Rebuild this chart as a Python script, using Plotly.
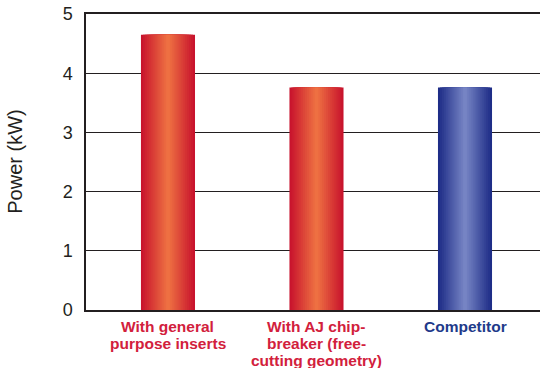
import plotly.graph_objects as go

categories = ["With general<br>purpose inserts",
              "With AJ chip-<br>breaker (free-<br>cutting geometry)",
              "Competitor"]
values = [4.65, 3.76, 3.76]
label_colors = ["#D2203C", "#D2203C", "#1E3A8A"]
y_ticks = [0, 1, 2, 3, 4, 5]
y_title = "Power (kW)"

# gradient approximation: edge colour -> centre colour
red_edge, red_mid = (200, 20, 45), (238, 112, 66)
blue_edge, blue_mid = (30, 45, 135), (118, 132, 196)
bar_styles = [(red_edge, red_mid), (red_edge, red_mid), (blue_edge, blue_mid)]

def mix(a, b, t):
    return "rgb(%d,%d,%d)" % tuple(round(a[i] + (b[i] - a[i]) * t) for i in range(3))

fig = go.Figure()
x_idx = list(range(len(categories)))
full_w = 0.364
steps = 14
for s in range(steps):
    t = s / (steps - 1)
    w = full_w * (1 - t * 0.93)
    colors = [mix(e, m, t) for (e, m) in bar_styles]
    fig.add_trace(go.Bar(x=x_idx, y=values, width=w,
                         marker=dict(color=colors, line=dict(width=0)),
                         showlegend=False, hoverinfo="skip"))

# category labels: one annotation per line for tight leading
annotations = []
label_size = 15.5
line_gap = 17.4
for i, (cat, col) in enumerate(zip(categories, label_colors)):
    for j, line in enumerate(cat.split("<br>")):
        annotations.append(dict(
            text="<b>%s</b>" % line, x=i, y=0, xref="x", yref="y",
            xanchor="center", yanchor="middle", showarrow=False,
            yshift=-16 - j * line_gap, borderpad=0,
            font=dict(size=label_size, color=col)))

annotations.append(dict(text=y_title, textangle=-90, xref="paper", yref="paper",
                        x=-0.157, y=0.5, xanchor="center", yanchor="middle",
                        showarrow=False, font=dict(size=20, color="#231f20")))

fig.update_layout(
    width=540, height=368,
    margin=dict(l=86, r=0, t=14, b=58),
    barmode="overlay",
    paper_bgcolor="white", plot_bgcolor="white",
    font=dict(family="Liberation Sans, Arial, sans-serif", color="#231f20"),
    xaxis=dict(range=[-0.552, 2.505], tickvals=x_idx, showticklabels=False,
               showgrid=False, ticks="",
               showline=True, mirror=True, linecolor="#231f20", linewidth=1.5,
               zeroline=False, fixedrange=True, automargin=False),
    yaxis=dict(range=[0, 5], tickvals=y_ticks, tickfont=dict(size=18),
               showgrid=True, gridcolor="#231f20", gridwidth=1,
               showline=True, linecolor="#231f20", linewidth=1.5,
               zeroline=False, ticks="", ticklabelstandoff=8, automargin=False),
    annotations=annotations,
)
fig.write_html("out.html")
